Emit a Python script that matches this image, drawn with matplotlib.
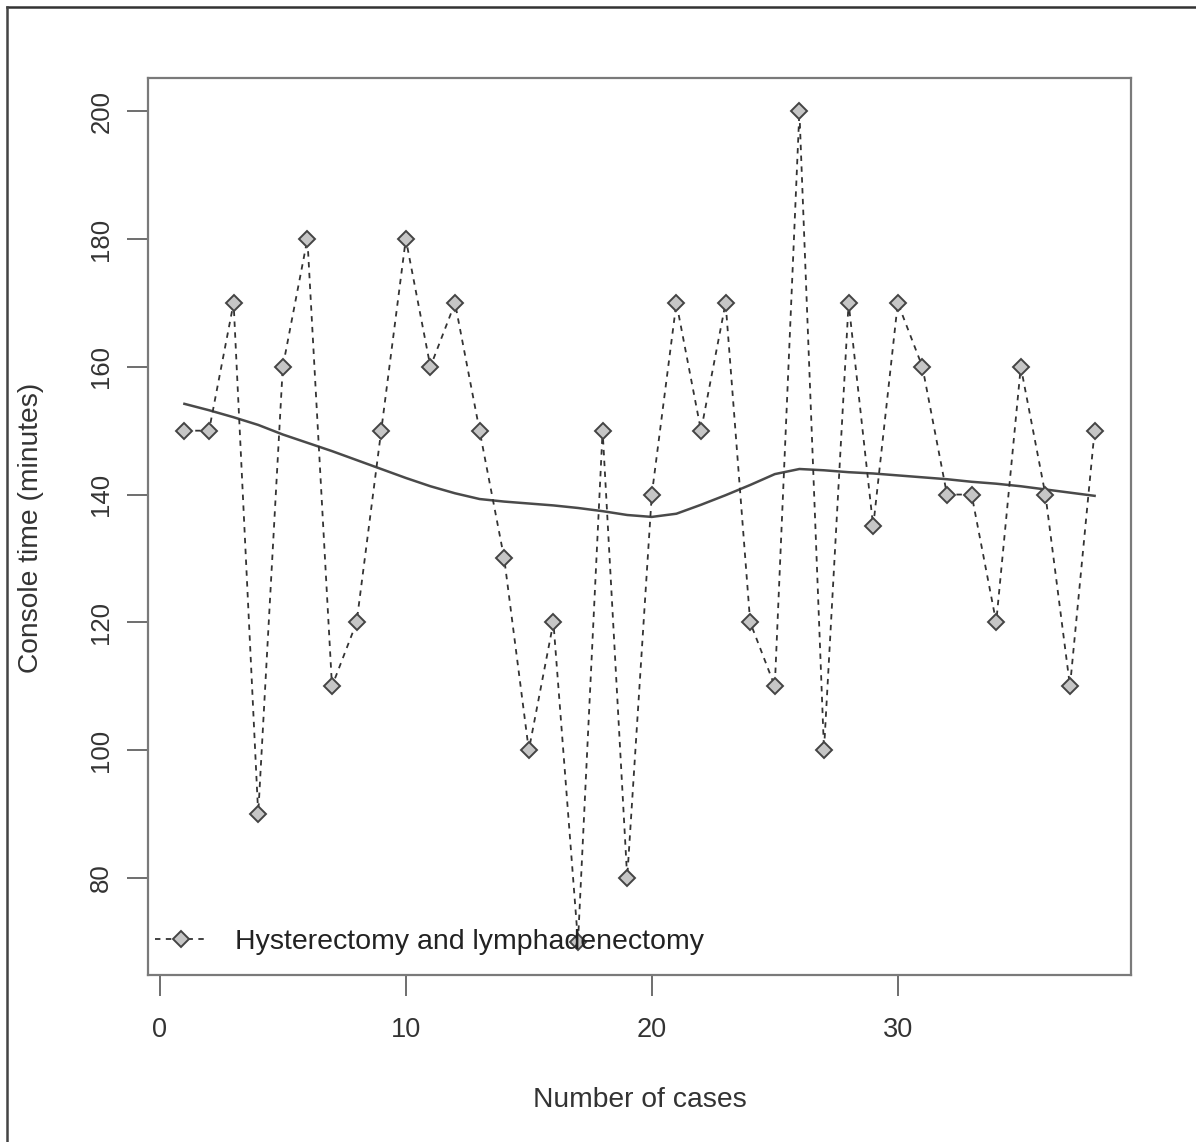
#!/usr/bin/env python

import matplotlib
matplotlib.use('Agg')
import matplotlib.pyplot as plt
from matplotlib.lines import Line2D

# console time per case (minutes)
cases = list(range(1, 39))
console_time = [150, 150, 170, 90, 160, 180, 110, 120, 150, 180,
                160, 170, 150, 130, 100, 120, 70, 150, 80, 140,
                170, 150, 170, 120, 110, 200, 100, 170, 135, 170,
                160, 140, 140, 120, 160, 140, 110, 150]

# smoothed trend
trend = [154.2, 153.2, 152.1, 150.9, 149.4, 148.1, 146.8, 145.4, 144.0, 142.6,
         141.3, 140.2, 139.3, 138.9, 138.6, 138.3, 137.9, 137.4, 136.8, 136.5,
         137.0, 138.4, 139.9, 141.5, 143.2, 144.0, 143.8, 143.5, 143.3, 143.0,
         142.7, 142.4, 142.0, 141.7, 141.3, 140.8, 140.3, 139.8]

x_ticks = [0, 10, 20, 30]
y_ticks = [80, 100, 120, 140, 160, 180, 200]
legend_label = 'Hysterectomy and lymphadenectomy'

plt.rcParams['font.family'] = ['Liberation Sans', 'DejaVu Sans']

W, H = 1196, 1142
fig = plt.figure(figsize=(W / 100, H / 100), dpi=100)
ax = fig.add_axes([148 / W, 1 - 975 / H, (1131 - 148) / W, (975 - 78) / H])

pt_style = dict(linestyle=(0, (3, 3)), color='#333333', lw=1.3,
                marker='D', markersize=8.5, markerfacecolor='#c6c6c6',
                markeredgecolor='#444444', markeredgewidth=1.4)

ax.plot(cases, console_time, zorder=3, **pt_style)
ax.plot(cases, trend, color='#4a4a4a', lw=1.8, zorder=2)

# R style ranges (4% padding)
xr = max(cases) - min(cases)
yr = max(console_time) - min(console_time)
ax.set_xlim(min(cases) - 0.04 * xr, max(cases) + 0.04 * xr)
ax.set_ylim(min(console_time) - 0.04 * yr, max(console_time) + 0.04 * yr)

ax.set_xticks(x_ticks)
ax.set_yticks(y_ticks)
ax.tick_params(axis='both', length=15, width=1.2, color='#555555',
               labelcolor='#333333')
ax.tick_params(axis='x', labelsize=19.5, pad=15)
ax.tick_params(axis='y', labelsize=18.5, pad=10)
for lab in ax.get_yticklabels():
    lab.set_rotation(90)
    lab.set_va('center')
for s in ax.spines.values():
    s.set_color('#7a7a7a')
    s.set_linewidth(1.6)

fig.text(640 / W, 1 - 1100 / H, 'Number of cases', ha='center', va='center',
         fontsize=20.3, color='#333333')
fig.text(31 / W, 1 - 528 / H, 'Console time (minutes)', ha='center', va='center',
         rotation=90, fontsize=20.3, color='#333333')

handle = Line2D([], [], **pt_style)
leg = ax.legend([handle], [legend_label], loc='center left', frameon=False,
                fontsize=20.5, handlelength=1.8, handletextpad=1.0,
                borderpad=0, borderaxespad=0,
                bbox_to_anchor=(0.007, 0.037))
for t in leg.get_texts():
    t.set_color('#222222')

# outer frame, only top and left are visible in the original
fig.add_artist(Line2D([7 / W, 1], [1 - 7 / H, 1 - 7 / H], color='#333333', lw=1.8))
fig.add_artist(Line2D([7 / W, 7 / W], [0, 1 - 7 / H], color='#444444', lw=1.8))

fig.savefig('out.png', dpi=100)
